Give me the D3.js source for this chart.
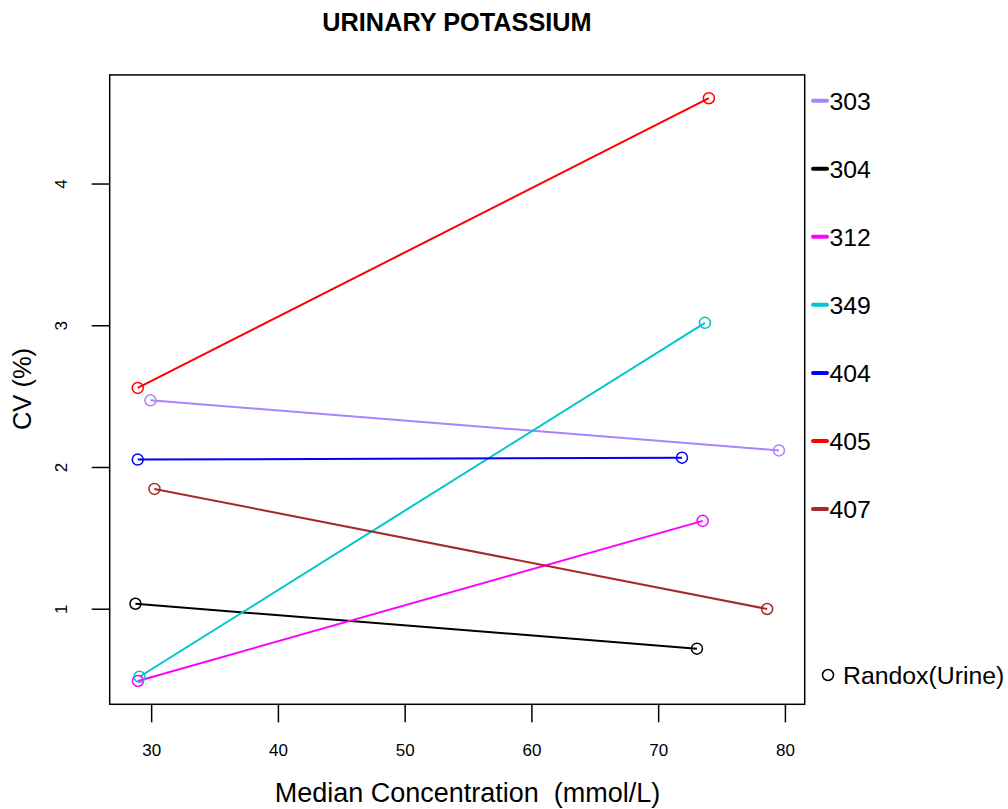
<!DOCTYPE html>
<html>
<head>
<meta charset="utf-8">
<script src="https://cdn.jsdelivr.net/npm/d3@7"></script>
<style>
  html, body { margin: 0; padding: 0; background: #fff; }
  svg { display: block; font-family: "Liberation Sans", Arial, sans-serif; }
  text { white-space: pre; }
</style>
</head>
<body>
<svg id="chart" width="1008" height="809"></svg>
<script>
// ---- data ----
const labs = ["303", "304", "312", "349", "404", "405", "407"];
const colors = ["#AB82FF", "#000000", "#FF00FF", "#00C5CD", "#0000FF", "#FF0000", "#A52A2A"];
const medianLow  = [29.94, 28.76, 28.96, 29.08, 28.94, 28.94, 30.26];
const medianHigh = [79.53, 73.06, 73.51, 73.69, 71.88, 74.00, 78.60];
const cvLow  = [2.470, 1.035, 0.490, 0.520, 2.052, 2.558, 1.845];
const cvHigh = [2.117, 0.718, 1.620, 3.017, 2.066, 4.602, 0.998];
const xTicks = [30, 40, 50, 60, 70, 80];
const yTicks = [1, 2, 3, 4];
const title = "URINARY POTASSIUM";
const xTitle = "Median Concentration  (mmol/L)";
const yTitle = "CV (%)";
const pointLegend = "Randox(Urine)";

// ---- layout ----
const svg = d3.select("#chart");
const L = 109.7, R = 804.7, T = 74.9, B = 704.3;

function padded(vals) {
  const [mn, mx] = d3.extent(vals);
  const r = mx - mn;
  return [mn - 0.04 * r, mx + 0.04 * r];
}
const x = d3.scaleLinear().domain(padded(medianLow.concat(medianHigh))).range([L, R]);
const y = d3.scaleLinear().domain(padded(cvLow.concat(cvHigh))).range([B, T]);

const series = labs.map((lab, i) => ({
  lab, color: colors[i],
  pts: [[medianLow[i], cvLow[i]], [medianHigh[i], cvHigh[i]]]
}));

// lines
const line = d3.line().x(d => x(d[0])).y(d => y(d[1]));
svg.append("g").selectAll("path").data(series).enter().append("path")
  .attr("d", d => line(d.pts))
  .attr("fill", "none")
  .attr("stroke", d => d.color)
  .attr("stroke-width", 2);

// points
series.forEach(s => {
  svg.append("g").selectAll("circle").data(s.pts).enter().append("circle")
    .attr("cx", d => x(d[0])).attr("cy", d => y(d[1])).attr("r", 5.5)
    .attr("fill", "none").attr("stroke", s.color).attr("stroke-width", 1.5);
});

// box
svg.append("rect").attr("x", L).attr("y", T).attr("width", R - L).attr("height", B - T)
  .attr("fill", "none").attr("stroke", "#000").attr("stroke-width", 1.5);

// x axis
const xAxis = d3.axisBottom(x).tickValues(xTicks).tickSize(18).tickPadding(22).tickFormat(d3.format("d"));
const gx = svg.append("g").attr("transform", `translate(0,${B})`).call(xAxis);
gx.select(".domain").remove();
gx.selectAll(".tick line").attr("stroke", "#000").attr("stroke-width", 1.5);
gx.selectAll(".tick text").attr("font-size", 17).attr("fill", "#000")
  .attr("font-family", "Liberation Sans, Arial, sans-serif");

// y axis
const yAxis = d3.axisLeft(y).tickValues(yTicks).tickSize(18).tickFormat(d3.format("d"));
const gy = svg.append("g").attr("transform", `translate(${L},0)`).call(yAxis);
gy.select(".domain").remove();
gy.selectAll(".tick line").attr("stroke", "#000").attr("stroke-width", 1.5);
gy.selectAll(".tick text").remove();
gy.selectAll(".tick").append("text")
  .attr("transform", `translate(${61 - L},0) rotate(-90)`)
  .attr("text-anchor", "middle").attr("dy", "0.35em")
  .attr("font-size", 17).attr("fill", "#000")
  .attr("font-family", "Liberation Sans, Arial, sans-serif")
  .text(d => d);

// titles
svg.append("text").attr("x", 457).attr("y", 30.5).attr("text-anchor", "middle")
  .attr("font-size", 25.3).attr("font-weight", "bold").text(title);
svg.append("text").attr("x", 467.5).attr("y", 801.5).attr("text-anchor", "middle")
  .attr("font-size", 27).attr("xml:space", "preserve").text(xTitle);
svg.append("text").attr("transform", `translate(31,${389}) rotate(-90)`)
  .attr("text-anchor", "middle").attr("font-size", 25.5).text(yTitle);

// legend
const legY = d3.scalePoint().domain(labs).range([100.7, 509]);
const lg = svg.append("g");
labs.forEach((lab, i) => {
  const yy = legY(lab);
  lg.append("line").attr("x1", 813).attr("x2", 827).attr("y1", yy).attr("y2", yy)
    .attr("stroke", colors[i]).attr("stroke-width", 4).attr("stroke-linecap", "round");
  lg.append("text").attr("x", 829.5).attr("y", yy).attr("dy", "0.36em")
    .attr("font-size", 24.8).attr("fill", "#000").text(lab);
});
lg.append("circle").attr("cx", 828).attr("cy", 675).attr("r", 5.5)
  .attr("fill", "none").attr("stroke", "#000").attr("stroke-width", 1.5);
lg.append("text").attr("x", 843).attr("y", 675).attr("dy", "0.36em")
  .attr("font-size", 24.8).attr("fill", "#000").text(pointLegend);
</script>
</body>
</html>
